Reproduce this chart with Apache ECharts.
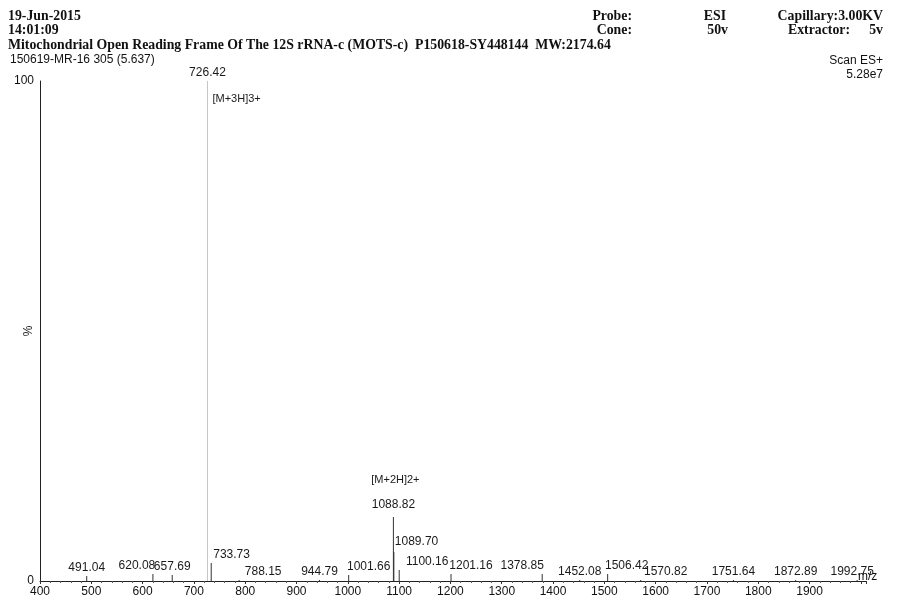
<!DOCTYPE html>
<html>
<head>
<meta charset="utf-8">
<script src="https://cdn.jsdelivr.net/npm/echarts@6/dist/echarts.min.js"></script>
<style>
html,body{margin:0;padding:0;background:#fff;}
#chart{width:897px;height:613px;}
</style>
</head>
<body>
<div id="chart"></div>
<script>
// ---- data ----
const mzValues = [491.04, 620.08, 657.69, 726.42, 733.73, 788.15, 944.79, 1001.66, 1088.82, 1089.70, 1100.16, 1201.16, 1378.85, 1452.08, 1506.42, 1570.82, 1751.64, 1872.89, 1992.75];
const relIntensity = [1.0, 1.4, 1.2, 100, 3.6, 0.2, 0.2, 1.2, 12.8, 5.8, 2.2, 1.4, 1.4, 0.2, 1.4, 0.2, 0.2, 0.2, 0.2];
const ionNames = ['', '', '', '[M+3H]3+', '', '', '', '', '[M+2H]2+', '', '', '', '', '', '', '', '', '', ''];
const xTickValues = [400, 500, 600, 700, 800, 900, 1000, 1100, 1200, 1300, 1400, 1500, 1600, 1700, 1800, 1900];
const yTickValues = [0, 100];

// ---- label placement (style, not data) ----
const labelDx = {1:-16, 4:1, 5:24, 7:20, 10:28, 11:20, 12:-20, 14:19, 15:25, 18:-5};
const labelAlign = {4:'left', 9:'left'};
const labelDy = {8:-4, 9:-2};
const faintPeak = {3:true};

const chart = echarts.init(document.getElementById('chart'), null, {renderer:'canvas'});
const seriesData = mzValues.map((m, i) => [m, relIntensity[i]]);

const labelFont = '12px "Liberation Sans", Arial, sans-serif';
const headFont = 'bold 13.8px "Liberation Serif", "Times New Roman", serif';

const option = {
  animation: false,
  backgroundColor: '#ffffff',
  grid: {left: 40, right: 31, top: 81, bottom: 32, containLabel: false, outerBoundsMode: 'none'},
  xAxis: {
    type: 'value', min: 400, max: 2010, interval: 100,
    axisLine: {show: true, onZero: false, lineStyle: {color: '#222', width: 1}},
    axisTick: {show: true, length: 3, inside: false, lineStyle: {color: '#333'}},
    minorTick: {show: true, splitNumber: 5, length: 2, lineStyle: {color: '#555'}},
    splitLine: {show: false},
    axisLabel: {
      color: '#111', fontSize: 12, fontFamily: '"Liberation Sans", Arial, sans-serif', margin: 5,
      formatter: v => xTickValues.indexOf(v) >= 0 ? String(v) : ''
    }
  },
  yAxis: {
    type: 'value', min: 0, max: 100, interval: 100,
    name: '%', nameLocation: 'middle', nameGap: 5, nameRotate: 90, nameMoveOverlap: false,
    nameTextStyle: {color: '#222', fontSize: 12, fontFamily: '"Liberation Sans", Arial, sans-serif'},
    axisLine: {show: true, lineStyle: {color: '#222', width: 1}},
    axisTick: {show: false},
    splitLine: {show: false},
    axisLabel: {
      color: '#111', fontSize: 12, fontFamily: '"Liberation Sans", Arial, sans-serif', margin: 6,
      formatter: v => yTickValues.indexOf(v) >= 0 ? String(v) : ''
    }
  },
  series: [{
    type: 'custom',
    data: seriesData,
    encode: {x: 0, y: 1},
    clip: false,
    renderItem: function (params, api) {
      const i = params.dataIndex;
      const top = api.coord([api.value(0), api.value(1)]);
      const base = api.coord([api.value(0), 0]);
      const children = [{
        type: 'line',
        shape: {x1: base[0], y1: base[1], x2: top[0], y2: top[1]},
        style: {stroke: faintPeak[i] ? '#c4c4c4' : '#333', lineWidth: 1}
      }];
      const dx = labelDx[i] || 0;
      const dy = labelDy[i] || 0;
      const al = labelAlign[i] || 'center';
      const ly = top[1] - 2 + dy;
      children.push({
        type: 'text',
        style: {
          text: mzValues[i].toFixed(2), x: top[0] + dx + (al === 'left' ? 1 : 0), y: ly,
          align: al, verticalAlign: 'bottom', font: labelFont, fill: '#1a1a1a'
        }
      });
      if (ionNames[i]) {
        if (faintPeak[i]) {
          children.push({type: 'text', style: {text: ionNames[i], x: top[0] + 5, y: top[1] + 18,
            align: 'left', verticalAlign: 'middle', font: '11px "Liberation Sans", Arial, sans-serif', fill: '#1a1a1a'}});
        } else {
          children.push({type: 'text', style: {text: ionNames[i], x: top[0] + 2, y: ly - 26,
            align: 'center', verticalAlign: 'bottom', font: '11px "Liberation Sans", Arial, sans-serif', fill: '#1a1a1a'}});
        }
      }
      return {type: 'group', children: children};
    }
  }],
  graphic: [
    {type: 'text', left: 8, top: 9, style: {text: '19-Jun-2015', font: headFont, fill: '#111'}},
    {type: 'text', left: 8, top: 23, style: {text: '14:01:09', font: headFont, fill: '#111'}},
    {type: 'text', left: 8, top: 38, style: {text: 'Mitochondrial Open Reading Frame Of The 12S rRNA-c (MOTS-c)  P150618-SY448144  MW:2174.64', font: headFont, fill: '#111'}},
    {type: 'text', left: 10, top: 54, style: {text: '150619-MR-16 305 (5.637)', font: '12px "Liberation Sans", Arial, sans-serif', fill: '#111'}},
    {type: 'text', right: 265, top: 9, style: {text: 'Probe:', font: headFont, fill: '#111'}},
    {type: 'text', right: 265, top: 23, style: {text: 'Cone:', font: headFont, fill: '#111'}},
    {type: 'text', right: 171, top: 9, style: {text: 'ESI', font: headFont, fill: '#111'}},
    {type: 'text', right: 169, top: 23, style: {text: '50v', font: headFont, fill: '#111'}},
    {type: 'text', right: 14, top: 9, style: {text: 'Capillary:3.00KV', font: headFont, fill: '#111'}},
    {type: 'text', right: 47, top: 23, style: {text: 'Extractor:', font: headFont, fill: '#111'}},
    {type: 'text', right: 14, top: 23, style: {text: '5v', font: headFont, fill: '#111'}},
    {type: 'text', right: 14, top: 55, style: {text: 'Scan ES+', font: '12px "Liberation Sans", Arial, sans-serif', fill: '#111'}},
    {type: 'text', right: 14, top: 69, style: {text: '5.28e7', font: '12px "Liberation Sans", Arial, sans-serif', fill: '#111'}},
    {type: 'text', left: 858, top: 571, style: {text: 'm/z', font: '12px "Liberation Sans", Arial, sans-serif', fill: '#111'}}
  ]
};
chart.setOption(option);
</script>
</body>
</html>
